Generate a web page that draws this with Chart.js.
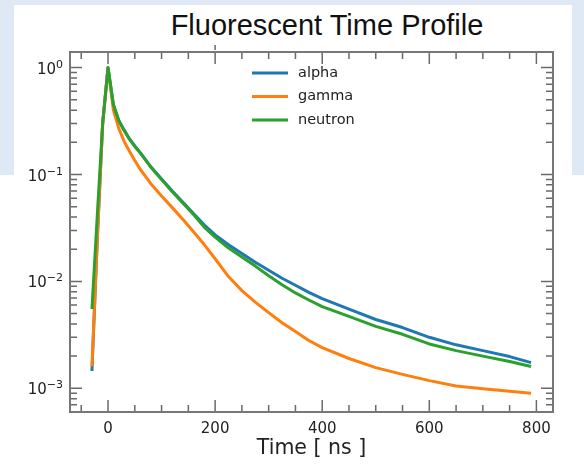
<!DOCTYPE html>
<html>
<head>
<meta charset="utf-8">
<script src="https://cdn.jsdelivr.net/npm/chart.js@4.4.0/dist/chart.umd.min.js"></script>
<style>
  html, body { margin: 0; padding: 0; background: #fff; }
  #page { position: relative; width: 584px; height: 464px; overflow: hidden; background: #fff; }
  #band { position: absolute; left: 0; top: 0; width: 584px; height: 175px; background: #dee9f5; }
  #panel { position: absolute; left: 14px; top: 5px; width: 558px; height: 170px; background: #fff; }
  #title { position: absolute; left: 0; top: 11px; width: 654px; text-align: center;
           font: 29px/28px "Liberation Sans", Arial, sans-serif; color: #111; }
  #wrap { position: absolute; left: 0; top: 0; width: 584px; height: 464px; }
</style>
</head>
<body>
<div id="page">
  <div id="band"></div>
  <div id="panel"></div>
  <div id="title">Fluorescent Time Profile</div>
  <div id="wrap"><canvas id="chart"></canvas></div>
</div>
<script>
// time bins (ns) and normalised intensity per particle type
const times   = [-30, -20, -10, 0, 10, 20, 30, 40, 50, 60, 80, 100, 120, 140, 160, 180, 200,
                 225, 250, 275, 300, 325, 350, 375, 400, 450, 500, 550, 600, 650, 700, 750, 790];
const alpha   = [0.00145, 0.025, 0.30, 1.0, 0.45, 0.32, 0.26, 0.215, 0.185, 0.16, 0.118, 0.091, 0.070,
                 0.055, 0.043, 0.0337, 0.0272, 0.022, 0.0182, 0.0151, 0.0127, 0.0107, 0.0092, 0.0079,
                 0.0069, 0.0055, 0.0044, 0.0037, 0.0030, 0.00255, 0.00225, 0.00198, 0.00174];
const gamma   = [0.0016, 0.025, 0.30, 1.0, 0.40, 0.27, 0.205, 0.165, 0.135, 0.112, 0.082, 0.063, 0.049,
                 0.038, 0.029, 0.022, 0.0163, 0.0111, 0.0082, 0.0064, 0.0051, 0.0041, 0.0034, 0.0028,
                 0.0024, 0.0019, 0.00156, 0.00135, 0.00118, 0.00105, 0.00099, 0.00094, 0.0009];
const neutron = [0.0055, 0.042, 0.30, 1.0, 0.45, 0.32, 0.26, 0.215, 0.183, 0.16, 0.117, 0.090, 0.069,
                 0.054, 0.042, 0.032, 0.026, 0.0205, 0.0169, 0.0139, 0.0113, 0.0093, 0.0078, 0.0067,
                 0.0058, 0.0047, 0.0038, 0.0032, 0.0026, 0.00225, 0.0020, 0.00178, 0.0016];

const seriesNames  = ['alpha', 'gamma', 'neutron'];
const seriesColors = ['#1f77b4', '#ff7f0e', '#2ca02c'];

const xTicks      = [0, 200, 400, 600, 800];
const xMinorTicks = [-50, 50, 100, 150, 250, 300, 350, 450, 500, 550, 650, 700, 750];
const yTicks      = [0.001, 0.01, 0.1, 1];
const yTickExp    = ['\u22123', '\u22122', '\u22121', '0'];

const yMinorTicks = [];
[0.0001, 0.001, 0.01, 0.1].forEach(d => {
    for (let k = 2; k <= 9; k++) yMinorTicks.push(d * k);
});

// inward ticks on all four sides, frame, 10^n labels and legend
const framePlugin = {
    id: 'frame',
    afterDraw(chart) {
        const { ctx, chartArea: a, scales: { x, y } } = chart;
        ctx.save();
        ctx.strokeStyle = '#6a6a6a';
        ctx.lineWidth = 1.5;
        ctx.beginPath();
        const xt = (v, len) => {
            const p = x.getPixelForValue(v);
            if (p < a.left || p > a.right) return;
            ctx.moveTo(p, a.bottom); ctx.lineTo(p, a.bottom - len);
            ctx.moveTo(p, a.top);    ctx.lineTo(p, a.top + len);
        };
        const yt = (v, len) => {
            const p = y.getPixelForValue(v);
            if (p < a.top || p > a.bottom) return;
            ctx.moveTo(a.left, p);  ctx.lineTo(a.left + len, p);
            ctx.moveTo(a.right, p); ctx.lineTo(a.right - len, p);
        };
        xTicks.forEach(v => xt(v, 12));
        xMinorTicks.forEach(v => xt(v, 7));
        yTicks.forEach(v => yt(v, 12));
        yMinorTicks.forEach(v => yt(v, 7));
        // small stray mark above the top spine, as in the slide
        const sp = x.getPixelForValue(200);
        ctx.moveTo(sp, a.top - 7); ctx.lineTo(sp, a.top - 2);
        ctx.stroke();

        ctx.strokeStyle = '#777';
        ctx.lineWidth = 2;
        ctx.strokeRect(a.left, a.top, a.right - a.left, a.bottom - a.top);

        // y labels: 10 with raised exponent
        ctx.fillStyle = '#222';
        ctx.textBaseline = 'alphabetic';
        ctx.textAlign = 'left';
        yTicks.forEach((v, i) => {
            const p = y.getPixelForValue(v);
            ctx.font = '11px "DejaVu Sans"';
            const we = ctx.measureText(yTickExp[i]).width;
            ctx.font = '15px "DejaVu Sans"';
            const wb = ctx.measureText('10').width;
            const x0 = a.left - 7 - we - wb;
            ctx.fillText('10', x0, p + 6);
            ctx.font = '11px "DejaVu Sans"';
            ctx.fillText(yTickExp[i], x0 + wb, p);
        });

        // legend, upper centre, no frame
        const lx = a.left + 182, ly = a.top + 21;
        ctx.font = '14.5px "DejaVu Sans"';
        ctx.textBaseline = 'middle';
        chart.data.datasets.forEach((ds, i) => {
            const yy = ly + i * 23.5;
            ctx.strokeStyle = ds.borderColor;
            ctx.lineWidth = 3;
            ctx.beginPath();
            ctx.moveTo(lx, yy); ctx.lineTo(lx + 36, yy);
            ctx.stroke();
            ctx.fillStyle = '#222';
            ctx.fillText(ds.label, lx + 46, yy);
        });
        ctx.restore();
    }
};

const seriesData = [alpha, gamma, neutron];

new Chart(document.getElementById('chart'), {
    type: 'line',
    data: {
        labels: times,
        datasets: seriesData.map((vals, i) => ({
            label: seriesNames[i],
            data: times.map((t, j) => ({ x: t, y: vals[j] })),
            borderColor: seriesColors[i],
            backgroundColor: seriesColors[i],
            borderWidth: 3,
            pointRadius: 0,
            tension: 0,
            borderJoinStyle: 'round',
            order: 3 - i
        }))
    },
    options: {
        responsive: true,
        maintainAspectRatio: false,
        devicePixelRatio: 1,
        animation: false,
        layout: { padding: { left: 0, top: 52, right: 31, bottom: 0 } },
        plugins: {
            legend: { display: false },
            tooltip: { enabled: false }
        },
        scales: {
            x: {
                type: 'linear',
                min: -71,
                max: 831,
                grid: { display: false, drawTicks: false },
                border: { display: false },
                afterBuildTicks: s => { s.ticks = xTicks.map(v => ({ value: v })); },
                afterFit: s => { s.height = 52; },
                ticks: {
                    font: { family: 'DejaVu Sans', size: 15 },
                    color: '#222',
                    padding: 8,
                    maxRotation: 0
                },
                title: {
                    display: true,
                    text: 'Time [ ns ]',
                    font: { family: 'DejaVu Sans', size: 20.5, lineHeight: 1.2 },
                    color: '#222',
                    padding: { top: 0, bottom: 3 }
                }
            },
            y: {
                type: 'logarithmic',
                min: 0.00064,
                max: 1.4,
                grid: { display: false, drawTicks: false },
                border: { display: false },
                afterBuildTicks: s => { s.ticks = yTicks.map(v => ({ value: v })); },
                afterFit: s => { s.width = 70; },
                ticks: { display: false }
            }
        }
    },
    plugins: [framePlugin]
});
</script>
</body>
</html>
